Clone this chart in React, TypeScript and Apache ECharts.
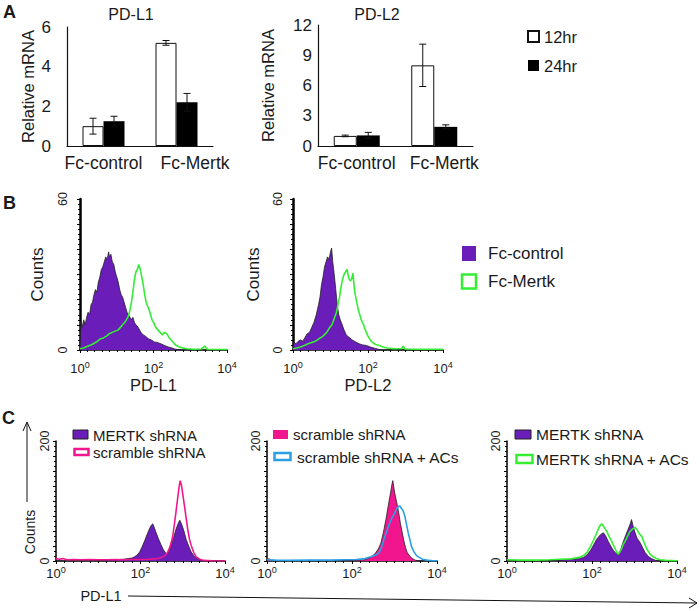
import React, { useEffect, useRef } from 'react';
import * as echarts from 'echarts';

const FONT = '"Liberation Sans", Arial, Helvetica, sans-serif';
const INK = '#1a1a1a';

// ---------- Panel A data ----------
const categories = ['Fc-control', 'Fc-Mertk'];
const barSeriesNames = ['12hr', '24hr'];
const pdl1Mean12 = [1.0, 5.2];
const pdl1Err12 = [0.4, 0.12];
const pdl1Mean24 = [1.25, 2.2];
const pdl1Err24 = [0.25, 0.45];
const pdl2Mean12 = [1.0, 8.0];
const pdl2Err12 = [0.08, 2.1];
const pdl2Mean24 = [1.05, 1.9];
const pdl2Err24 = [0.3, 0.2];
const pdl1AxisMax = 6;
const pdl1AxisStep = 2;
const pdl2AxisMax = 12;
const pdl2AxisStep = 3;

// ---------- Histogram axes (log10 of intensity: 10^0 .. 10^4) ----------
const logMin = 0;
const logMax = 4;
const logLabelStep = 2;
const bCountMax = 60;
const cCountMax = 200;

// ---------- Panel B data: [log10 intensity, counts] ----------
const b1FcControl = [
  [0.0, 0], [0.02, 11], [0.06, 9], [0.1, 12], [0.14, 10], [0.18, 13], [0.22, 15], [0.26, 14], [0.3, 18],
  [0.34, 19], [0.38, 22], [0.42, 24], [0.46, 23], [0.5, 27], [0.54, 29], [0.58, 32], [0.62, 33], [0.66, 35],
  [0.7, 37], [0.74, 36], [0.78, 39], [0.8, 37], [0.84, 38], [0.88, 35], [0.92, 34], [0.96, 31], [1.0, 29],
  [1.04, 27], [1.08, 24], [1.12, 22], [1.16, 21], [1.2, 19], [1.24, 17], [1.28, 15], [1.32, 14], [1.36, 13],
  [1.4, 12], [1.44, 13], [1.48, 11], [1.52, 10], [1.56, 9.5], [1.6, 8.5], [1.66, 7], [1.72, 6], [1.78, 5.5],
  [1.86, 4.5], [1.94, 4], [2.02, 3.2], [2.1, 3], [2.2, 2.5], [2.3, 1.8], [2.4, 1.2], [2.5, 0.8], [2.6, 0.3],
  [2.8, 0], [4, 0],
];
const b1FcMertk = [
  [0, 0.5], [0.1, 0.8], [0.2, 1.5], [0.3, 2], [0.4, 2.8], [0.48, 3.5], [0.56, 4.5], [0.64, 4.8], [0.72, 5.5],
  [0.8, 6.5], [0.88, 7], [0.96, 7.5], [1.04, 8], [1.1, 9], [1.16, 10], [1.22, 11], [1.28, 12.5], [1.32, 13.5],
  [1.36, 16], [1.4, 19], [1.44, 23], [1.48, 28], [1.52, 31], [1.56, 32], [1.6, 34], [1.64, 32], [1.68, 29],
  [1.72, 26], [1.76, 22], [1.8, 19], [1.84, 17.5], [1.88, 16], [1.92, 14], [1.96, 12], [2.0, 11], [2.06, 9],
  [2.12, 8], [2.18, 7], [2.24, 6], [2.3, 7], [2.36, 6.5], [2.42, 5], [2.48, 4], [2.54, 3], [2.6, 2],
  [2.7, 1.2], [2.8, 0.8], [2.9, 0.5], [3.1, 0.3], [3.3, 0.4], [3.4, 1.5], [3.46, 0.3], [3.7, 0.2], [4, 0.2],
];
const b2FcControl = [
  [0, 0], [0.02, 3], [0.08, 2.5], [0.14, 3.5], [0.2, 4], [0.26, 3.5], [0.32, 5], [0.38, 6.5], [0.44, 7],
  [0.5, 9], [0.56, 11], [0.62, 14], [0.68, 18], [0.72, 21], [0.76, 26], [0.8, 29], [0.84, 33], [0.88, 35],
  [0.92, 37], [0.96, 36], [1.0, 39], [1.03, 40.5], [1.06, 35], [1.1, 30], [1.14, 24], [1.18, 18], [1.22, 14],
  [1.26, 12], [1.3, 10.5], [1.36, 8], [1.42, 6], [1.5, 5], [1.58, 4], [1.66, 3.3], [1.76, 2.5], [1.86, 2],
  [1.96, 1.8], [2.06, 1.2], [2.2, 0.6], [2.35, 0], [4, 0],
];
const b2FcMertk = [
  [0, 0.5], [0.1, 0.8], [0.2, 1.2], [0.3, 1.8], [0.4, 2.5], [0.5, 3], [0.6, 3.5], [0.7, 4.5], [0.8, 5.5],
  [0.9, 7], [0.98, 9], [1.04, 10], [1.1, 12.5], [1.16, 15], [1.2, 18], [1.24, 21], [1.28, 25], [1.32, 28],
  [1.36, 30], [1.4, 31], [1.44, 32], [1.48, 29], [1.52, 27.5], [1.56, 28], [1.6, 30.5], [1.63, 25], [1.66, 22],
  [1.7, 19], [1.74, 16], [1.78, 14], [1.82, 12], [1.88, 10], [1.94, 7.5], [2.0, 5.5], [2.06, 4], [2.12, 3],
  [2.2, 2.2], [2.3, 1.8], [2.4, 1.2], [2.5, 0.8], [2.7, 0.5], [2.9, 0.6], [2.94, 1.5], [2.98, 0.4], [3.3, 0.3],
  [4, 0.3],
];

// ---------- Panel C data ----------
const c1MertkShRNA = [
  [0, 0], [0.5, 0], [1.0, 0.5], [1.3, 1.5], [1.5, 2.5], [1.6, 3], [1.7, 4], [1.8, 5], [1.86, 7], [1.92, 10],
  [1.98, 15], [2.04, 24], [2.1, 34], [2.16, 45], [2.22, 55], [2.26, 60], [2.29, 62], [2.32, 57], [2.36, 49],
  [2.42, 38], [2.48, 28], [2.54, 19], [2.6, 13], [2.64, 12], [2.68, 17], [2.72, 24], [2.78, 38], [2.84, 53],
  [2.9, 64], [2.93, 68], [2.97, 62], [3.02, 52], [3.08, 36], [3.14, 25], [3.2, 15], [3.26, 9], [3.32, 5],
  [3.4, 2], [3.5, 0.5], [3.6, 0], [4, 0],
];
const c1ScrambleShRNA = [
  [0, 4], [0.08, 3], [0.16, 4], [0.26, 2], [0.4, 2.5], [0.6, 2], [0.8, 2.5], [1.0, 2], [1.2, 2], [1.4, 2.5],
  [1.6, 2], [1.8, 2.5], [2.0, 2.5], [2.2, 3], [2.4, 4], [2.5, 6], [2.58, 9], [2.64, 14], [2.7, 24], [2.76, 40],
  [2.8, 60], [2.84, 82], [2.88, 105], [2.91, 122], [2.94, 134], [2.97, 126], [3.0, 112], [3.04, 92],
  [3.08, 72], [3.12, 52], [3.16, 36], [3.2, 26], [3.26, 14], [3.32, 7], [3.4, 3], [3.5, 1], [3.7, 0.5], [4, 0],
];
const c2ScrambleShRNA = [
  [0, 0], [0.04, 4], [0.1, 1], [0.3, 0.5], [1.0, 0.5], [2.0, 1], [2.3, 2], [2.44, 6], [2.54, 12], [2.62, 20],
  [2.68, 30], [2.74, 48], [2.8, 70], [2.86, 95], [2.91, 115], [2.94, 128], [2.96, 134], [2.99, 120],
  [3.02, 108], [3.06, 95], [3.1, 80], [3.14, 62], [3.18, 48], [3.22, 34], [3.26, 22], [3.3, 14], [3.36, 8],
  [3.42, 4], [3.5, 1], [3.6, 0], [4, 0],
];
const c2ScrambleACs = [
  [0, 2], [0.2, 1.5], [0.5, 1], [1.0, 1.5], [1.5, 1.5], [1.8, 2], [2.1, 2.5], [2.3, 4], [2.44, 7], [2.56, 10],
  [2.64, 14], [2.7, 24], [2.76, 38], [2.82, 50], [2.88, 62], [2.94, 72], [2.99, 78], [3.04, 86], [3.08, 90],
  [3.12, 92], [3.16, 88], [3.2, 84], [3.24, 76], [3.28, 62], [3.32, 48], [3.36, 36], [3.4, 24], [3.46, 15],
  [3.52, 9], [3.58, 6], [3.66, 3], [3.76, 1.5], [3.9, 0.5], [4, 0.5],
];
const c3MertkShRNA = [
  [0, 0], [0.5, 0], [1.0, 0.5], [1.3, 1.5], [1.5, 3], [1.7, 4], [1.8, 6], [1.88, 10], [1.96, 17], [2.04, 27],
  [2.1, 35], [2.16, 41], [2.22, 45], [2.27, 47], [2.32, 42], [2.38, 33], [2.44, 25], [2.5, 18], [2.56, 13],
  [2.62, 10], [2.68, 20], [2.74, 33], [2.8, 44], [2.85, 53], [2.9, 62], [2.93, 69], [2.96, 60], [3.0, 50],
  [3.06, 38], [3.13, 31], [3.2, 21], [3.25, 14], [3.32, 8], [3.4, 4], [3.5, 1], [3.6, 0], [4, 0],
];
const c3MertkACs = [
  [0, 2], [0.3, 1.5], [0.7, 1.5], [1.0, 2], [1.25, 3], [1.5, 3.5], [1.7, 6], [1.8, 9], [1.88, 14], [1.96, 24],
  [2.04, 35], [2.1, 45], [2.16, 55], [2.2, 60], [2.23, 62], [2.28, 57], [2.35, 49], [2.4, 41], [2.46, 33],
  [2.52, 24], [2.58, 15], [2.62, 11], [2.68, 18], [2.74, 28], [2.78, 33], [2.84, 42], [2.89, 49], [2.95, 53],
  [3.01, 56], [3.06, 52], [3.12, 45], [3.17, 41], [3.23, 30], [3.29, 20], [3.36, 12], [3.44, 7], [3.52, 4],
  [3.6, 2], [3.75, 1], [4, 0.5],
];

const PURPLE = '#6a1db8';
const GREEN = '#33ee33';
const PINK = '#f2168e';
const BLUE = '#2a9fe4';

function errorSeries(idx: number, m12: number[], e12: number[], m24: number[], e24: number[], barW: number) {
  const data: number[][] = [];
  m12.forEach((m, i) => data.push([i, m - e12[i], m + e12[i], -1]));
  m24.forEach((m, i) => data.push([i, m - e24[i], m + e24[i], 1]));
  return {
    type: 'custom',
    xAxisIndex: idx,
    yAxisIndex: idx,
    silent: true,
    z: 5,
    encode: { x: 0, y: [1, 2] },
    data,
    renderItem: (params: any, api: any) => {
      const lo = api.coord([api.value(0), api.value(1)]);
      const hi = api.coord([api.value(0), api.value(2)]);
      const x = lo[0] + (api.value(3) * barW) / 2;
      const w = 3.5;
      const st = { stroke: '#111', lineWidth: 1 };
      return {
        type: 'group',
        children: [
          { type: 'line', shape: { x1: x, y1: lo[1], x2: x, y2: hi[1] }, style: st },
          { type: 'line', shape: { x1: x - w, y1: hi[1], x2: x + w, y2: hi[1] }, style: st },
          { type: 'line', shape: { x1: x - w, y1: lo[1], x2: x + w, y2: lo[1] }, style: st },
        ],
      };
    },
  };
}

function barCatAxis(idx: number, shift: number) {
  return {
    type: 'category',
    gridIndex: idx,
    data: categories,
    axisLine: { show: true, lineStyle: { color: '#111', width: 1.2 } },
    axisTick: { show: false },
    splitLine: { show: false },
    axisLabel: {
      interval: 0,
      hideOverlap: false,
      margin: 8,
      formatter: (v: string, i: number) => (i === 1 ? `{m|${v}}` : `{c|${v}}`),
      rich: {
        c: { fontSize: 17.5, fontFamily: FONT, color: INK },
        m: { fontSize: 17.5, fontFamily: FONT, color: INK, padding: [0, 0, 0, shift] },
      },
    },
  };
}

function barValAxis(idx: number, max: number, step: number, margin: number, nameGap: number) {
  return {
    type: 'value',
    gridIndex: idx,
    min: 0,
    max,
    interval: step,
    axisLine: { show: true, lineStyle: { color: '#111', width: 1.2 } },
    axisTick: { show: false },
    splitLine: { show: false },
    axisLabel: { fontSize: 17, fontFamily: FONT, color: INK, margin },
    name: 'Relative mRNA',
    nameLocation: 'middle',
    nameRotate: 90,
    nameGap,
    nameTextStyle: { fontSize: 16.5, fontFamily: FONT, color: INK },
  };
}

const supRich = {
  b: { fontSize: 13, fontFamily: FONT, color: INK, verticalAlign: 'bottom', lineHeight: 15 },
  s: { fontSize: 9, fontFamily: FONT, color: INK, verticalAlign: 'top', lineHeight: 9 },
};

function histXAxis(idx: number, margin: number, name?: string, nameGap?: number) {
  return {
    type: 'value',
    gridIndex: idx,
    min: logMin,
    max: logMax,
    interval: logLabelStep,
    axisLine: { show: true, onZero: false, lineStyle: { color: '#000', width: 1.5 } },
    axisTick: { show: true, length: 3, lineStyle: { color: '#000' } },
    minorTick: { show: true, splitNumber: 10, length: 2, lineStyle: { color: '#000' } },
    splitLine: { show: false },
    axisLabel: { margin, formatter: (v: number) => `{b|10}{s|${v}}`, rich: supRich },
    name: name || '',
    nameLocation: 'middle',
    nameGap: nameGap || 0,
    nameTextStyle: { fontSize: 16.5, fontFamily: FONT, color: INK },
  };
}

function histYAxis(idx: number, max: number, step: number, minorSplit: number, margin: number, width: number, name?: string, nameGap?: number) {
  return {
    type: 'value',
    gridIndex: idx,
    min: 0,
    max,
    interval: step,
    axisLine: { show: true, lineStyle: { color: '#000', width } },
    axisTick: { show: true, length: 3, lineStyle: { color: '#000' } },
    minorTick: { show: true, splitNumber: minorSplit, length: 2, lineStyle: { color: '#000' } },
    splitLine: { show: false },
    axisLabel: {
      rotate: 90,
      margin,
      fontSize: 12.5,
      fontFamily: FONT,
      color: INK,
      formatter: (v: number) => (v === 0 || v === max ? String(v) : ''),
    },
    name: name || '',
    nameLocation: 'middle',
    nameRotate: 90,
    nameGap: nameGap || 0,
    nameTextStyle: { fontSize: 17, fontFamily: FONT, color: INK },
  };
}

function filledHist(idx: number, name: string, data: number[][], color: string) {
  return {
    type: 'line',
    name,
    xAxisIndex: idx,
    yAxisIndex: idx,
    data,
    symbol: 'none',
    silent: true,
    z: 2,
    lineStyle: { color: '#222', width: 0.8 },
    areaStyle: { color, opacity: 1 },
  };
}

function lineHist(idx: number, name: string, data: number[][], color: string) {
  return {
    type: 'line',
    name,
    xAxisIndex: idx,
    yAxisIndex: idx,
    data,
    symbol: 'none',
    silent: true,
    z: 3,
    lineStyle: { color, width: 1.6 },
  };
}

function txt(text: string, x: number, y: number, fontSize: number, opts: any = {}) {
  return {
    type: 'text',
    x,
    y,
    rotation: opts.rotation || 0,
    style: {
      text,
      fontSize,
      fontFamily: FONT,
      fontWeight: opts.bold ? 'bold' : 'normal',
      fill: INK,
      textAlign: opts.align || 'left',
      align: opts.align || 'left',
      textVerticalAlign: 'middle',
      verticalAlign: 'middle',
    },
  };
}

function boxIcon(x: number, y: number, w: number, h: number, fill: string, stroke: string, lw: number) {
  return { type: 'rect', shape: { x, y, width: w, height: h }, style: { fill, stroke, lineWidth: lw } };
}

export default function App() {
  const ref = useRef<HTMLDivElement>(null);
  useEffect(() => {
    if (!ref.current) return;
    const chart = echarts.init(ref.current, null, { renderer: 'svg' });
    const grids = [
      { left: 67, top: 27, width: 146, height: 119 },
      { left: 318, top: 25, width: 155, height: 121 },
      { left: 80, top: 199, width: 147, height: 151 },
      { left: 293, top: 199, width: 150, height: 151 },
      { left: 56, top: 441, width: 169, height: 120 },
      { left: 267, top: 441, width: 170, height: 120 },
      { left: 507, top: 441, width: 170, height: 120 },
    ].map((g) => ({ ...g, containLabel: false, outerBoundsMode: 'none', show: false }));

    const option: any = {
      animation: false,
      backgroundColor: '#ffffff',
      textStyle: { fontFamily: FONT, color: INK },
      grid: grids,
      legend: {
        data: barSeriesNames,
        orient: 'vertical',
        left: 522,
        top: 23,
        icon: 'rect',
        itemWidth: 11,
        itemHeight: 11,
        itemGap: 12,
        selectedMode: false,
        textStyle: { fontSize: 16.5, fontFamily: FONT, color: INK },
      },
      xAxis: [
        barCatAxis(0, 37),
        barCatAxis(1, 20),
        histXAxis(2, 10, 'PD-L1', 26),
        histXAxis(3, 10, 'PD-L2', 26),
        histXAxis(4, 4),
        histXAxis(5, 4),
        histXAxis(6, 4),
      ],
      yAxis: [
        barValAxis(0, pdl1AxisMax, pdl1AxisStep, 16, 31),
        barValAxis(1, pdl2AxisMax, pdl2AxisStep, 6, 42),
        histYAxis(2, bCountMax, 10, 5, 11, 2.5, 'Counts', 34),
        histYAxis(3, bCountMax, 10, 5, 9, 2.5, 'Counts', 31),
        histYAxis(4, cCountMax, 25, 3, 5, 1.5),
        histYAxis(5, cCountMax, 25, 3, 5, 1.5),
        histYAxis(6, cCountMax, 25, 3, 5, 1.5),
      ],
      series: [
        { type: 'bar', name: '12hr', xAxisIndex: 0, yAxisIndex: 0, data: pdl1Mean12, barWidth: 21, barGap: '0%', itemStyle: { color: '#ffffff', borderColor: '#111', borderWidth: 1 } },
        { type: 'bar', name: '24hr', xAxisIndex: 0, yAxisIndex: 0, data: pdl1Mean24, barWidth: 21, barGap: '0%', itemStyle: { color: '#000000' } },
        errorSeries(0, pdl1Mean12, pdl1Err12, pdl1Mean24, pdl1Err24, 21),
        { type: 'bar', name: '12hr', xAxisIndex: 1, yAxisIndex: 1, data: pdl2Mean12, barWidth: 23, barGap: '0%', itemStyle: { color: '#ffffff', borderColor: '#111', borderWidth: 1 } },
        { type: 'bar', name: '24hr', xAxisIndex: 1, yAxisIndex: 1, data: pdl2Mean24, barWidth: 23, barGap: '0%', itemStyle: { color: '#000000' } },
        errorSeries(1, pdl2Mean12, pdl2Err12, pdl2Mean24, pdl2Err24, 23),
        filledHist(2, 'Fc-control', b1FcControl, PURPLE),
        lineHist(2, 'Fc-Mertk', b1FcMertk, GREEN),
        filledHist(3, 'Fc-control', b2FcControl, PURPLE),
        lineHist(3, 'Fc-Mertk', b2FcMertk, GREEN),
        filledHist(4, 'MERTK shRNA', c1MertkShRNA, PURPLE),
        lineHist(4, 'scramble shRNA', c1ScrambleShRNA, PINK),
        filledHist(5, 'scramble shRNA', c2ScrambleShRNA, PINK),
        lineHist(5, 'scramble shRNA + ACs', c2ScrambleACs, BLUE),
        filledHist(6, 'MERTK shRNA', c3MertkShRNA, PURPLE),
        lineHist(6, 'MERTK shRNA + ACs', c3MertkACs, GREEN),
      ],
      graphic: [
        txt('A', 3, 12, 18, { bold: true }),
        txt('B', 3, 203, 18, { bold: true }),
        txt('C', 2, 418, 18, { bold: true }),
        txt('PD-L1', 131, 14, 16, { align: 'center' }),
        txt('PD-L2', 377, 14, 16, { align: 'center' }),
        // Panel B legend
        boxIcon(462, 246, 14, 15, PURPLE, PURPLE, 0),
        txt('Fc-control', 488, 253, 17),
        boxIcon(462, 274.5, 14, 14, 'none', GREEN, 2.5),
        txt('Fc-Mertk', 488, 281, 17),
        // Panel C legends
        boxIcon(73, 430, 15, 9, PURPLE, '#222', 1),
        txt('MERTK shRNA', 93, 435, 15),
        boxIcon(74.5, 449, 14, 6, '#ffffff', PINK, 2.5),
        txt('scramble shRNA', 93, 452, 15),
        boxIcon(273, 430, 15, 9, PINK, PINK, 0),
        txt('scramble shRNA', 293, 434, 15),
        boxIcon(274.5, 453, 16, 7, '#ffffff', BLUE, 2.5),
        txt('scramble shRNA + ACs', 297, 457, 15.5),
        boxIcon(515, 430, 16, 9, PURPLE, '#222', 1),
        txt('MERTK shRNA', 536, 434, 15.5),
        boxIcon(516.5, 455, 16, 8, '#ffffff', GREEN, 2.5),
        txt('MERTK shRNA + ACs', 536, 459, 15.5),
        // Panel C shared axis titles with arrows
        { type: 'line', shape: { x1: 27, y1: 502, x2: 27, y2: 423 }, style: { stroke: '#111', lineWidth: 1 } },
        { type: 'polyline', shape: { points: [[23, 431], [27, 422], [31, 431]] }, style: { stroke: '#111', lineWidth: 1, fill: 'none' } },
        txt('Counts', 30, 532, 14, { align: 'center', rotation: Math.PI / 2 }),
        txt('PD-L1', 101, 596, 14.5, { align: 'center' }),
        { type: 'line', shape: { x1: 128, y1: 596, x2: 697, y2: 603 }, style: { stroke: '#111', lineWidth: 1 } },
        { type: 'polyline', shape: { points: [[689, 598], [697, 603], [689, 608]] }, style: { stroke: '#111', lineWidth: 1, fill: 'none' } },
      ],
    };
    chart.setOption(option);
    return () => chart.dispose();
  }, []);
  return (
    <div
      ref={ref}
      style={{ position: 'absolute', left: 0, top: 0, width: 700, height: 611, background: '#fff' }}
    />
  );
}
